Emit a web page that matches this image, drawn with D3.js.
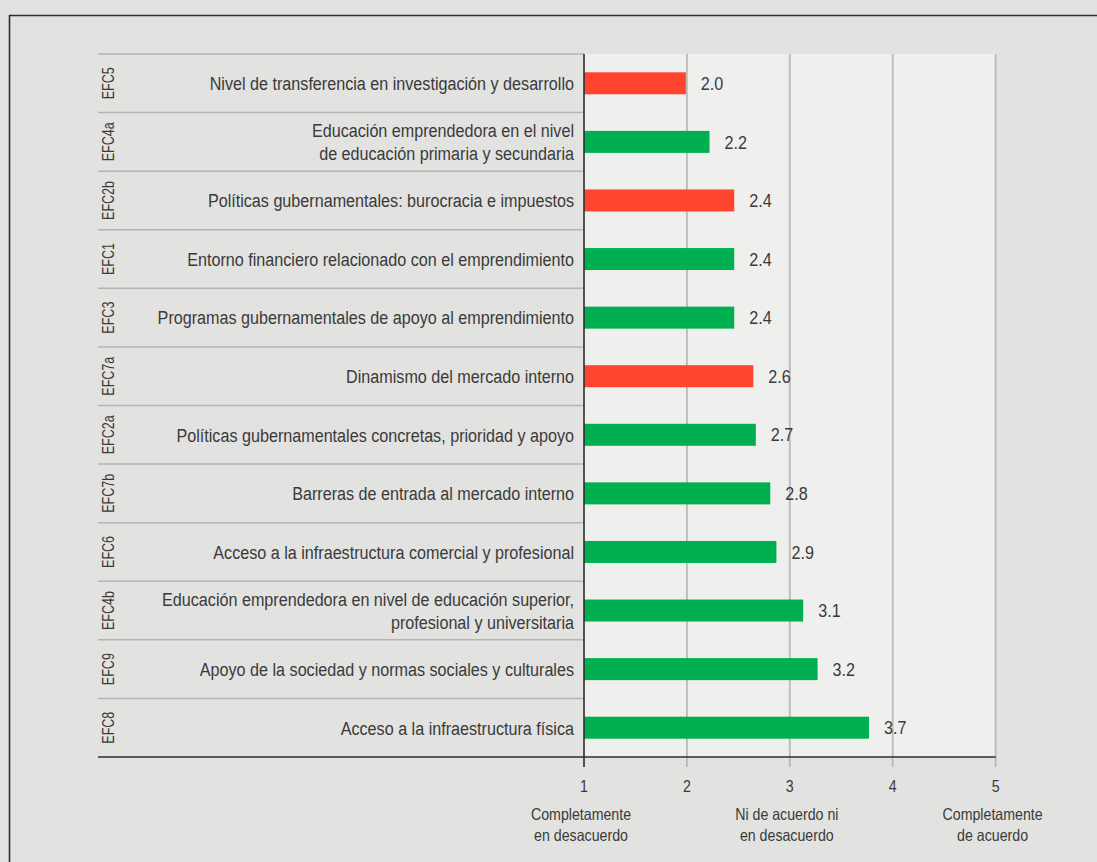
<!DOCTYPE html>
<html>
<head>
<meta charset="utf-8">
<script src="https://cdn.jsdelivr.net/npm/d3@7"></script>
<style>
  html, body { margin: 0; padding: 0; background: #e2e2e0; }
  svg { display: block; }
  text { font-family: 'Liberation Sans', Arial, sans-serif; fill: #3a3a3a; }
</style>
</head>
<body>
<svg id="chart" width="1097" height="862"></svg>
<script>
// ---- data ----
const codes = ["EFC5", "EFC4a", "EFC2b", "EFC1", "EFC3", "EFC7a", "EFC2a", "EFC7b", "EFC6", "EFC4b", "EFC9", "EFC8"];
const names = [
  "Nivel de transferencia en investigación y desarrollo",
  "Educación emprendedora en el nivel\nde educación primaria y secundaria",
  "Políticas gubernamentales: burocracia e impuestos",
  "Entorno financiero relacionado con el emprendimiento",
  "Programas gubernamentales de apoyo al emprendimiento",
  "Dinamismo del mercado interno",
  "Políticas gubernamentales concretas, prioridad y apoyo",
  "Barreras de entrada al mercado interno",
  "Acceso a la infraestructura comercial y profesional",
  "Educación emprendedora en nivel de educación superior,\nprofesional y universitaria",
  "Apoyo de la sociedad y normas sociales y culturales",
  "Acceso a la infraestructura física"
];
const values = [1.99, 2.22, 2.46, 2.46, 2.46, 2.645, 2.67, 2.81, 2.87, 3.13, 3.27, 3.77];
const valueLabels = ["2.0", "2.2", "2.4", "2.4", "2.4", "2.6", "2.7", "2.8", "2.9", "3.1", "3.2", "3.7"];
const groups = ["neg", "pos", "neg", "pos", "pos", "neg", "pos", "pos", "pos", "pos", "pos", "pos"];
const xTicks = [1, 2, 3, 4, 5];
const scaleNotes = [
  {v: 1, lines: ["Completamente", "en desacuerdo"]},
  {v: 3, lines: ["Ni de acuerdo ni", "en desacuerdo"]},
  {v: 5, lines: ["Completamente", "de acuerdo"]}
];

// ---- layout ----
const svg = d3.select("#chart");
const leftX = 98, plotTop = 54, plotBottom = 757;
const narrow = 0.85; // horizontal condensing of the text face
const x = d3.scaleLinear().domain([1, 5]).range([584, 995.6]);
const y = d3.scaleBand().domain(codes).range([plotTop, plotBottom]).padding(0);
const color = d3.scaleOrdinal().domain(["neg", "pos"]).range(["#ff442f", "#00b050"]);
const data = codes.map((c, i) => ({code: c, name: names[i], value: values[i], label: valueLabels[i], group: groups[i]}));
const yc = d => y(d.code) + y.bandwidth() / 2;

// outer frame (top and left borders)
svg.append("line").attr("x1", 9).attr("x2", 1097).attr("y1", 15.5).attr("y2", 15.5)
  .attr("stroke", "#2e2e2e").attr("stroke-width", 1.6);
svg.append("line").attr("x1", 9.5).attr("x2", 9.5).attr("y1", 15).attr("y2", 862)
  .attr("stroke", "#2e2e2e").attr("stroke-width", 1.6);

// plot background
svg.append("rect").attr("x", x(1)).attr("y", plotTop)
  .attr("width", x(5) - x(1)).attr("height", plotBottom - plotTop).attr("fill", "#efefed");

// grid lines
svg.append("g").selectAll("line").data(xTicks.filter(d => d > 1)).join("line")
  .attr("x1", d => x(d)).attr("x2", d => x(d))
  .attr("y1", plotTop).attr("y2", plotBottom + 10)
  .attr("stroke", "#b9b9b9").attr("stroke-width", 1.8);

// row separators in label area
svg.append("g").selectAll("line").data(codes).join("line")
  .attr("x1", leftX).attr("x2", x(1))
  .attr("y1", d => y(d)).attr("y2", d => y(d))
  .attr("stroke", "#b4b4b4").attr("stroke-width", 1.5);

// bars
const barH = 22;
svg.append("g").selectAll("rect").data(data).join("rect")
  .attr("x", x(1))
  .attr("y", d => yc(d) - barH / 2)
  .attr("width", d => x(d.value) - x(1))
  .attr("height", barH)
  .attr("fill", d => color(d.group));

// value labels
svg.append("g").selectAll("text").data(data).join("text")
  .attr("transform", d => `translate(${x(d.value) + 15},${yc(d)}) scale(${narrow},1)`)
  .attr("dy", "0.35em")
  .attr("font-size", 19)
  .text(d => d.label);

// category names
const nameG = svg.append("g").selectAll("text").data(data).join("text")
  .attr("text-anchor", "end")
  .attr("font-size", 19)
  .attr("transform", d => `translate(574,${yc(d)}) scale(${narrow},1)`);
nameG.each(function(d) {
  const lines = d.name.split("\n");
  const lh = 23.3;
  const t = d3.select(this);
  lines.forEach((ln, k) => {
    t.append("tspan").attr("x", 0)
      .attr("dy", k === 0 ? ((-(lines.length - 1) / 2) * lh + 6.8) : lh)
      .text(ln);
  });
});

// codes (rotated)
svg.append("g").selectAll("text").data(data).join("text")
  .attr("text-anchor", "middle")
  .attr("font-size", 16.5)
  .attr("transform", d => `translate(113.5,${yc(d)}) rotate(-90) scale(0.76,1)`)
  .text(d => d.code);

// left axis line
svg.append("line").attr("x1", x(1)).attr("x2", x(1)).attr("y1", plotTop).attr("y2", plotBottom + 10)
  .attr("stroke", "#2e2e2e").attr("stroke-width", 1.6);

// bottom axis line
svg.append("line").attr("x1", leftX).attr("x2", x(5)).attr("y1", plotBottom).attr("y2", plotBottom)
  .attr("stroke", "#2e2e2e").attr("stroke-width", 1.6);

// tick labels
svg.append("g").selectAll("text").data(xTicks).join("text")
  .attr("transform", d => `translate(${x(d)},792) scale(${narrow},1)`)
  .attr("text-anchor", "middle").attr("font-size", 16.7)
  .text(d => d);

// scale notes
const notes = svg.append("g").selectAll("text").data(scaleNotes).join("text")
  .attr("text-anchor", "middle").attr("font-size", 16.7)
  .attr("transform", d => `translate(${x(d.v) - 3},820) scale(${narrow},1)`);
notes.each(function(d) {
  const t = d3.select(this);
  d.lines.forEach((ln, k) => {
    t.append("tspan").attr("x", 0).attr("y", k * 21.5).text(ln);
  });
});
</script>
</body>
</html>
